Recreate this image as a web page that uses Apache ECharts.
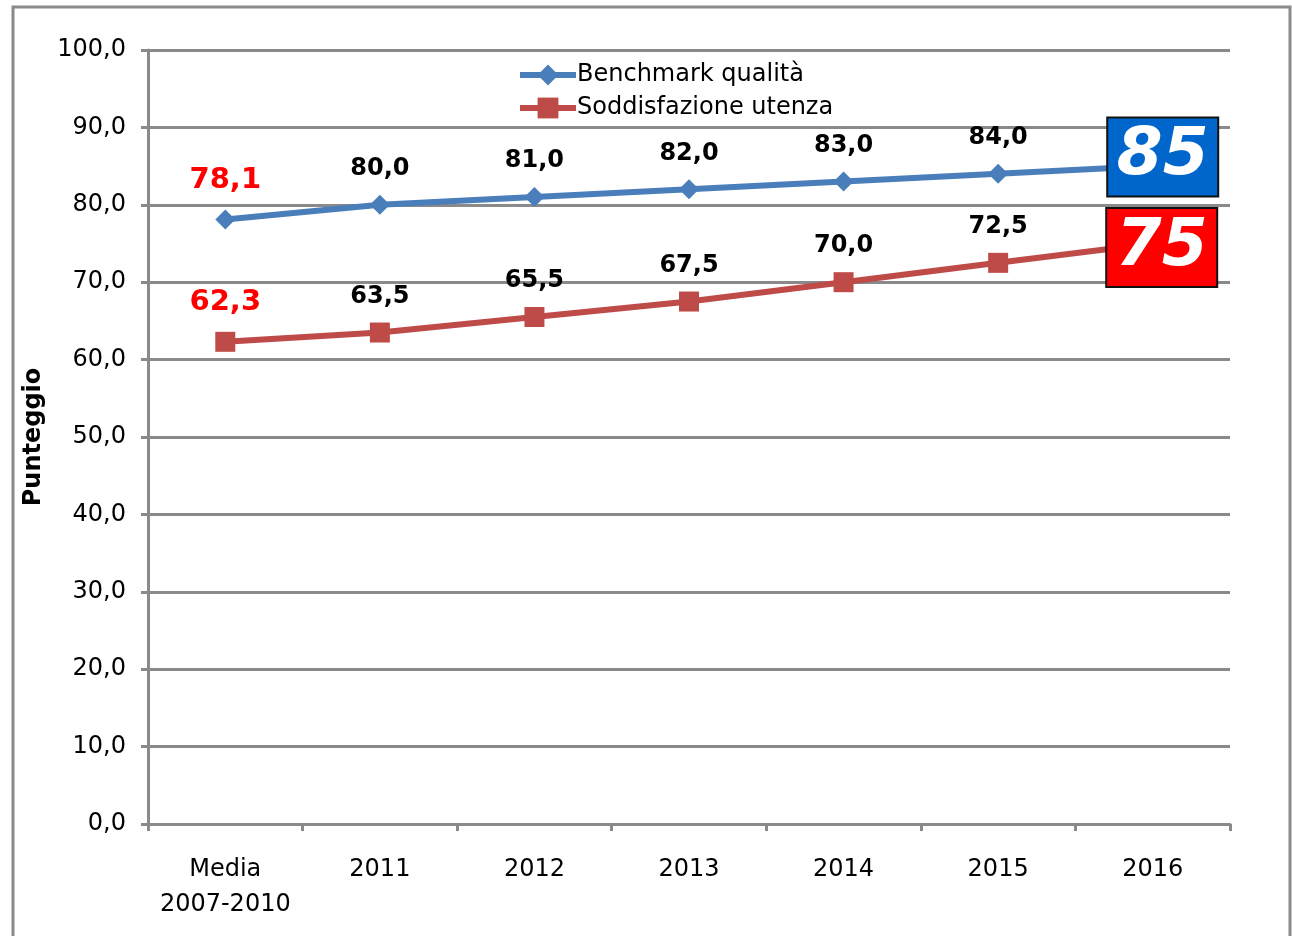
<!DOCTYPE html>
<html>
<head>
<meta charset="utf-8">
<script src="https://cdn.jsdelivr.net/npm/echarts@6/dist/echarts.min.js"></script>
<style>
  html, body { margin: 0; padding: 0; background: #fff; }
  #chart { width: 1292px; height: 936px; }
</style>
</head>
<body>
<div id="chart"></div>
<script>
var categories = ['Media\n2007-2010', '2011', '2012', '2013', '2014', '2015', '2016']
var benchmark = [78.1, 80.0, 81.0, 82.0, 83.0, 84.0, 85]
var soddisfazione = [62.3, 63.5, 65.5, 67.5, 70.0, 72.5, 75]
var yTicks = [0, 10, 20, 30, 40, 50, 60, 70, 80, 90, 100]

var FONT = 'DejaVu Sans'
var GRAY = '#8a8a8a'

function fmt(v) { return v.toFixed(1).replace('.', ',') }

// first point in red and larger, last point as a big coloured box
function buildData(values, boxColor, boxOffset) {
  return values.map(function (v, i) {
    var item = { value: v }
    if (i === 0) {
      item.label = { color: '#ff0000', fontSize: 29, distance: 15 }
    }
    if (i === values.length - 1) {
      item.label = {
        position: 'inside',
        offset: boxOffset,
        formatter: String(v),
        color: '#fff',
        fontSize: 66,
        fontStyle: 'italic',
        fontWeight: 'bold',
        backgroundColor: boxColor,
        borderColor: '#111',
        borderWidth: 2,
        width: 109,
        height: 77,
        lineHeight: 77,
        align: 'center',
        verticalAlign: 'middle'
      }
    }
    return item
  })
}

var chart = echarts.init(document.getElementById('chart'))
chart.setOption({
  backgroundColor: '#fff',
  animation: false,
  textStyle: { fontFamily: FONT },
  graphic: [{
    type: 'rect',
    shape: { x: 13, y: 7, width: 1277, height: 940 },
    style: { fill: 'none', stroke: GRAY, lineWidth: 3 },
    z: -1
  }],
  legend: {
    orient: 'vertical',
    left: 512,
    top: 58,
    itemWidth: 56,
    itemHeight: 26,
    itemGap: 9,
    lineStyle: { width: 6 },
    textStyle: { fontFamily: FONT, fontSize: 24, color: '#000', padding: [0, 0, 0, -4] },
    data: ['Benchmark qualità', 'Soddisfazione utenza']
  },
  grid: { left: 148, right: 62, top: 50, bottom: 112 },
  xAxis: {
    type: 'category',
    data: categories,
    boundaryGap: true,
    axisLine: { lineStyle: { color: GRAY, width: 3 } },
    axisTick: { show: true, length: 7, lineStyle: { color: GRAY, width: 3 } },
    axisLabel: { color: '#000', fontSize: 24, fontFamily: FONT, lineHeight: 35, margin: 28, interval: 0 }
  },
  yAxis: {
    type: 'value',
    min: 0,
    max: 100,
    interval: 10,
    name: 'Punteggio',
    nameLocation: 'middle',
    nameGap: 102,
    nameTextStyle: { fontFamily: FONT, fontSize: 24, fontWeight: 'bold', color: '#000' },
    axisLine: { show: true, lineStyle: { color: GRAY, width: 3 } },
    axisTick: { show: true, length: 7, lineStyle: { color: GRAY, width: 3 } },
    axisLabel: {
      color: '#000', fontSize: 24, fontFamily: FONT, margin: 22,
      formatter: function (v) { return yTicks.indexOf(v) >= 0 ? fmt(v) : '' }
    },
    splitLine: { show: true, lineStyle: { color: GRAY, width: 3 } }
  },
  series: [
    {
      name: 'Benchmark qualità',
      type: 'line',
      data: buildData(benchmark, '#0066cc', [10, -9]),
      symbol: 'diamond',
      symbolSize: 20,
      lineStyle: { color: '#4a7ebb', width: 6 },
      itemStyle: { color: '#4a7ebb' },
      label: {
        show: true, position: 'top', distance: 14,
        formatter: function (p) { return fmt(p.value) },
        fontFamily: FONT, fontSize: 24, fontWeight: 'bold', color: '#000'
      }
    },
    {
      name: 'Soddisfazione utenza',
      type: 'line',
      data: buildData(soddisfazione, '#ff0000', [9, 4]),
      symbol: 'rect',
      symbolSize: 20,
      lineStyle: { color: '#be4b48', width: 6 },
      itemStyle: { color: '#be4b48' },
      label: {
        show: true, position: 'top', distance: 14,
        formatter: function (p) { return fmt(p.value) },
        fontFamily: FONT, fontSize: 24, fontWeight: 'bold', color: '#000'
      }
    }
  ]
})
</script>
</body>
</html>
